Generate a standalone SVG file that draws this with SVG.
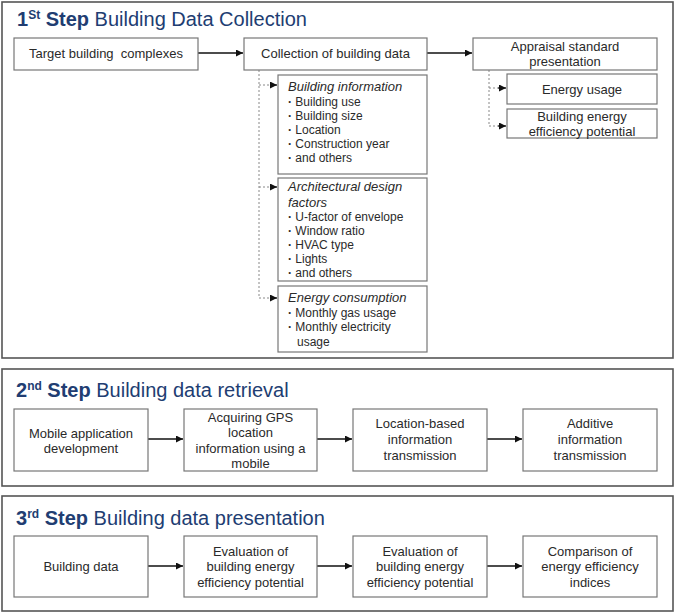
<svg xmlns="http://www.w3.org/2000/svg" width="678" height="616" viewBox="0 0 678 616">
<defs>
<marker id="ah" viewBox="0 0 10 10" refX="10" refY="5" markerWidth="8" markerHeight="7" markerUnits="userSpaceOnUse" orient="auto">
<path d="M0,0 L10,5 L0,10 z" fill="#111"/>
</marker>
</defs>
<style>
.panel{fill:#fff;stroke:#555;stroke-width:1.6}
.box{fill:#fff;stroke:#777;stroke-width:1.2}
.t{font-family:"Liberation Sans",Arial,sans-serif;font-size:13px;fill:#2a2a2a;text-anchor:middle}
.l{font-family:"Liberation Sans",Arial,sans-serif;font-size:12px;fill:#2a2a2a}
.li{font-family:"Liberation Sans",Arial,sans-serif;font-size:13px;fill:#2a2a2a;font-style:italic}
.bl{font-weight:bold}
.title{font-family:"Liberation Sans",Arial,sans-serif;font-size:20px;fill:#213d72}
.b{font-weight:bold}
.sup{font-size:12px;font-weight:bold}
.solid{stroke:#111;stroke-width:1.3;fill:none}
.dot{stroke:#888;stroke-width:1;stroke-dasharray:2,2;fill:none}
</style>
<rect width="678" height="616" fill="#fff"/>
<rect class="panel" x="2" y="2" width="671" height="356"/>
<rect class="panel" x="2" y="369" width="671" height="117"/>
<rect class="panel" x="2" y="496" width="671" height="115"/>
<text class="title" x="17" y="26"><tspan class="b">1</tspan><tspan class="sup" dy="-7">St</tspan><tspan class="b" dy="7"> Step</tspan> Building Data Collection</text>
<text class="title" x="16" y="397"><tspan class="b">2</tspan><tspan class="sup" dy="-7">nd</tspan><tspan class="b" dy="7"> Step</tspan> Building data retrieval</text>
<text class="title" x="16" y="525"><tspan class="b">3</tspan><tspan class="sup" dy="-7">rd</tspan><tspan class="b" dy="7"> Step</tspan> Building data presentation</text>
<g id="connectors">
<line class="solid" x1="198" y1="53" x2="243" y2="53" marker-end="url(#ah)"/>
<line class="solid" x1="427" y1="53" x2="472" y2="53" marker-end="url(#ah)"/>
<path class="dot" d="M259,70 V298"/>
<line class="dot" x1="259" y1="85" x2="270" y2="85"/>
<line class="solid" x1="270" y1="85" x2="277" y2="85" marker-end="url(#ah)"/>
<line class="dot" x1="259" y1="187" x2="270" y2="187"/>
<line class="solid" x1="270" y1="187" x2="277" y2="187" marker-end="url(#ah)"/>
<line class="dot" x1="259" y1="298" x2="270" y2="298"/>
<line class="solid" x1="270" y1="298" x2="277" y2="298" marker-end="url(#ah)"/>
<path class="dot" d="M489,70 V126"/>
<line class="dot" x1="489" y1="88" x2="498" y2="88"/>
<line class="solid" x1="498" y1="88" x2="506" y2="88" marker-end="url(#ah)"/>
<line class="dot" x1="489" y1="126" x2="498" y2="126"/>
<line class="solid" x1="498" y1="126" x2="506" y2="126" marker-end="url(#ah)"/>
<line class="solid" x1="148" y1="439" x2="183" y2="439" marker-end="url(#ah)"/>
<line class="solid" x1="317" y1="439" x2="352" y2="439" marker-end="url(#ah)"/>
<line class="solid" x1="487" y1="439" x2="522" y2="439" marker-end="url(#ah)"/>
<line class="solid" x1="148" y1="566" x2="183" y2="566" marker-end="url(#ah)"/>
<line class="solid" x1="317" y1="566" x2="352" y2="566" marker-end="url(#ah)"/>
<line class="solid" x1="487" y1="566" x2="522" y2="566" marker-end="url(#ah)"/>
</g>
<g id="target">
<rect class="box" x="14" y="38" width="184" height="32"/>
<text class="t" x="106" y="58" style="white-space:pre">Target building  complexes</text>
</g>
<g id="collection">
<rect class="box" x="244" y="38" width="183" height="32"/>
<text class="t" x="335.5" y="58">Collection of building data</text>
</g>
<g id="appraisal">
<rect class="box" x="473" y="38" width="184" height="32"/>
<text class="t" x="565" y="50.5">Appraisal standard</text>
<text class="t" x="565" y="65.5">presentation</text>
</g>
<g id="energy-usage">
<rect class="box" x="507" y="74" width="150" height="30"/>
<text class="t" x="582" y="93.5">Energy usage</text>
</g>
<g id="efficiency-potential">
<rect class="box" x="507" y="109" width="150" height="29"/>
<text class="t" x="582" y="120.5">Building energy</text>
<text class="t" x="582" y="135.5">efficiency potential</text>
</g>
<g id="building-info">
<rect class="box" x="278" y="75" width="149" height="99"/>
<text class="li" x="288" y="91">Building information</text>
<text class="l" x="288" y="106"><tspan class="bl">·</tspan> Building use</text>
<text class="l" x="288" y="120"><tspan class="bl">·</tspan> Building size</text>
<text class="l" x="288" y="134"><tspan class="bl">·</tspan> Location</text>
<text class="l" x="288" y="148"><tspan class="bl">·</tspan> Construction year</text>
<text class="l" x="288" y="162"><tspan class="bl">·</tspan> and others</text>
</g>
<g id="design-factors">
<rect class="box" x="278" y="178" width="149" height="103"/>
<text class="li" x="288" y="191">Architectural design</text>
<text class="li" x="288" y="207">factors</text>
<text class="l" x="288" y="221"><tspan class="bl">·</tspan> U-factor of envelope</text>
<text class="l" x="288" y="235"><tspan class="bl">·</tspan> Window ratio</text>
<text class="l" x="288" y="249"><tspan class="bl">·</tspan> HVAC type</text>
<text class="l" x="288" y="263"><tspan class="bl">·</tspan> Lights</text>
<text class="l" x="288" y="277"><tspan class="bl">·</tspan> and others</text>
</g>
<g id="energy-consumption">
<rect class="box" x="278" y="286" width="149" height="66"/>
<text class="li" x="288" y="302">Energy consumption</text>
<text class="l" x="288" y="317"><tspan class="bl">·</tspan> Monthly gas usage</text>
<text class="l" x="288" y="331"><tspan class="bl">·</tspan> Monthly electricity</text>
<text class="l" x="297" y="346">usage</text>
</g>
<g id="mobile-app">
<rect class="box" x="14" y="409" width="134" height="62"/>
<text class="t" x="81" y="437.5">Mobile application</text>
<text class="t" x="81" y="452.5">development</text>
</g>
<g id="gps">
<rect class="box" x="184" y="409" width="133" height="62"/>
<text class="t" x="250.5" y="421.5">Acquiring GPS</text>
<text class="t" x="250.5" y="437">location</text>
<text class="t" x="250.5" y="452.5">information using a</text>
<text class="t" x="250.5" y="468">mobile</text>
</g>
<g id="location-transmission">
<rect class="box" x="353" y="409" width="134" height="62"/>
<text class="t" x="420" y="427.5">Location-based</text>
<text class="t" x="420" y="443.5">information</text>
<text class="t" x="420" y="459.5">transmission</text>
</g>
<g id="additive-transmission">
<rect class="box" x="523" y="409" width="134" height="62"/>
<text class="t" x="590" y="427.5">Additive</text>
<text class="t" x="590" y="443.5">information</text>
<text class="t" x="590" y="459.5">transmission</text>
</g>
<g id="building-data">
<rect class="box" x="14" y="536" width="134" height="61"/>
<text class="t" x="81" y="570.5">Building data</text>
</g>
<g id="evaluation-1">
<rect class="box" x="184" y="536" width="133" height="61"/>
<text class="t" x="250.5" y="555.5">Evaluation of</text>
<text class="t" x="250.5" y="571">building energy</text>
<text class="t" x="250.5" y="586.5">efficiency potential</text>
</g>
<g id="evaluation-2">
<rect class="box" x="353" y="536" width="134" height="61"/>
<text class="t" x="420" y="555.5">Evaluation of</text>
<text class="t" x="420" y="571">building energy</text>
<text class="t" x="420" y="586.5">efficiency potential</text>
</g>
<g id="comparison">
<rect class="box" x="523" y="536" width="134" height="61"/>
<text class="t" x="590" y="555.5">Comparison of</text>
<text class="t" x="590" y="571">energy efficiency</text>
<text class="t" x="590" y="586.5">indices</text>
</g>
</svg>
